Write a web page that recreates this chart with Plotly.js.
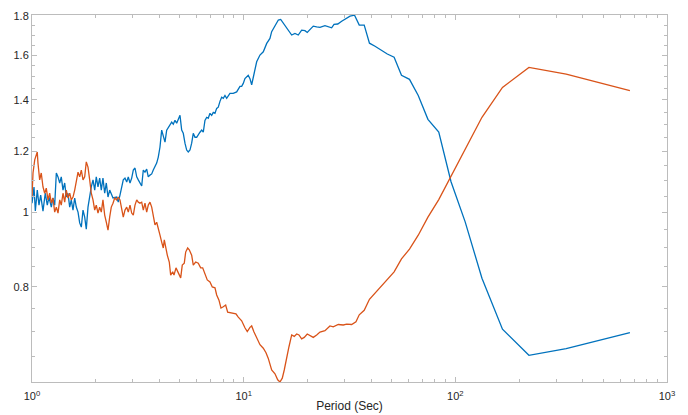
<!DOCTYPE html>
<html><head><meta charset="utf-8">
<script src="https://cdn.plot.ly/plotly-3.0.1.min.js"></script>
<style>html,body{margin:0;padding:0;background:#fff;} #chart{width:688px;height:415px;}</style>
</head><body><div id="chart"></div>
<script>
// Period (s) and ratio values
const blueT = [1.000,1.011,1.022,1.037,1.048,1.059,1.079,1.099,1.127,1.155,1.181,1.203,1.234,1.256,1.280,1.303,1.327,1.352,1.375,1.401,1.427,1.452,1.479,1.507,1.533,1.562,1.591,1.619,1.650,1.680,1.710,1.742,1.774,1.805,1.839,1.873,1.906,1.942,1.978,2.012,2.050,2.088,2.125,2.164,2.205,2.244,2.286,2.328,2.414,2.512,2.556,2.604,2.653,2.699,2.750,2.802,2.850,2.904,2.958,3.010,3.066,3.124,3.178,3.237,3.298,3.356,3.418,3.482,3.543,3.609,3.677,3.741,3.811,3.882,3.950,4.024,4.099,4.171,4.249,4.328,4.404,4.486,4.570,4.650,4.737,4.825,4.910,5.002,5.095,5.184,5.281,5.380,5.474,5.576,5.680,5.780,5.888,5.998,6.217,6.334,6.445,6.563,6.686,6.803,6.931,7.061,7.185,7.319,7.456,7.586,7.728,7.871,8.010,8.160,8.312,8.458,8.613,8.929,9.266,9.606,9.785,9.957,10.14,10.51,10.71,10.91,11.10,11.31,11.52,11.94,12.38,12.85,13.31,13.56,14.06,14.58,14.96,15.38,15.96,16.55,16.86,17.47,18.11,18.79,19.48,19.97,20.57,21.32,22.13,22.94,24.22,25.09,26.04,26.72,27.83,29.04,30.36,31.81,33.40,35.16,37.11,39.29,41.75,44.53,47.71,51.38,55.67,60.73,66.80,74.22,83.50,95.43,111.3,133.6,167.0,222.7,334.0,668.0];
const blueV = [1.028,1.053,1.079,1.004,1.038,1.069,1.022,1.053,1.004,1.059,1.022,1.047,1.016,1.044,1.022,1.125,1.112,1.092,1.112,1.069,1.092,1.047,1.059,1.016,1.038,1.007,1.044,1.016,1.001,0.969,0.957,1.007,0.986,0.951,1.016,1.053,1.079,1.102,1.069,1.112,1.079,1.108,1.069,1.108,1.059,1.092,1.047,1.069,1.044,1.047,1.031,1.053,1.079,1.102,1.108,1.095,1.112,1.092,1.108,1.135,1.142,1.112,1.102,1.092,1.082,1.135,1.128,1.138,1.112,1.118,1.122,1.135,1.145,1.159,1.180,1.216,1.279,1.260,1.234,1.279,1.290,1.302,1.310,1.302,1.317,1.306,1.325,1.337,1.279,1.267,1.230,1.205,1.198,1.205,1.230,1.267,1.252,1.252,1.271,1.279,1.271,1.317,1.329,1.325,1.345,1.337,1.349,1.345,1.365,1.370,1.394,1.411,1.407,1.419,1.407,1.419,1.428,1.428,1.434,1.458,1.458,1.471,1.492,1.507,1.492,1.465,1.496,1.522,1.569,1.601,1.617,1.658,1.683,1.717,1.751,1.778,1.781,1.763,1.734,1.713,1.700,1.708,1.700,1.725,1.722,1.713,1.729,1.746,1.742,1.739,1.748,1.742,1.737,1.755,1.757,1.772,1.786,1.799,1.804,1.751,1.751,1.659,1.644,1.625,1.606,1.591,1.507,1.489,1.419,1.321,1.272,1.096,0.972,0.821,0.705,0.652,0.665,0.698];

const orangeT = [1.000,1.011,1.030,1.048,1.059,1.067,1.087,1.106,1.127,1.148,1.168,1.190,1.212,1.234,1.256,1.280,1.303,1.327,1.352,1.375,1.401,1.427,1.452,1.479,1.507,1.533,1.562,1.591,1.619,1.650,1.680,1.710,1.742,1.774,1.805,1.839,1.873,1.906,1.942,1.978,2.012,2.050,2.088,2.125,2.164,2.205,2.244,2.286,2.328,2.369,2.414,2.459,2.512,2.556,2.604,2.653,2.699,2.750,2.802,2.850,2.904,2.958,3.010,3.066,3.124,3.178,3.237,3.298,3.356,3.418,3.482,3.543,3.609,3.677,3.741,3.811,3.882,3.950,4.024,4.099,4.171,4.217,4.296,4.357,4.452,4.520,4.620,4.686,4.789,4.910,5.040,5.128,5.241,5.321,5.439,5.534,5.680,5.780,5.933,6.103,6.265,6.403,6.563,6.730,6.931,7.107,7.319,7.456,7.644,7.812,8.010,8.222,8.403,8.776,9.196,9.430,9.785,10.14,10.40,10.71,10.91,11.19,11.52,11.94,12.38,12.75,13.07,13.31,13.56,14.06,14.48,14.84,15.22,15.55,15.96,16.37,16.86,17.34,17.80,18.25,18.79,19.33,19.97,20.57,21.32,22.13,22.94,24.22,25.56,26.50,27.99,29.54,30.66,32.37,33.92,35.16,37.11,39.29,41.75,44.53,47.71,51.38,55.67,60.73,66.80,74.22,83.50,95.43,111.3,133.6,167.0,222.7,334.0,668.0];
const orangeV = [1.047,1.125,1.170,1.194,1.198,1.159,1.102,1.125,1.079,1.059,1.075,1.038,1.059,1.028,1.044,1.001,1.016,0.998,1.038,1.022,1.059,1.031,1.069,1.044,1.059,1.038,1.047,1.069,1.092,1.128,1.112,1.135,1.102,1.112,1.163,1.145,1.102,1.059,1.038,1.007,1.022,0.998,1.016,1.001,1.038,0.992,0.971,0.948,0.986,1.016,1.028,1.044,1.038,1.047,1.038,1.013,0.986,1.007,1.016,1.001,1.022,0.998,0.992,1.022,1.038,1.031,1.028,1.031,1.007,1.028,1.001,1.022,1.031,1.016,0.992,0.963,0.971,0.948,0.934,0.915,0.899,0.921,0.894,0.880,0.862,0.829,0.837,0.829,0.847,0.834,0.822,0.854,0.859,0.888,0.899,0.894,0.880,0.854,0.862,0.859,0.847,0.847,0.834,0.817,0.812,0.800,0.798,0.781,0.769,0.751,0.754,0.758,0.742,0.740,0.738,0.731,0.723,0.708,0.700,0.709,0.712,0.699,0.686,0.673,0.666,0.657,0.646,0.637,0.624,0.617,0.606,0.602,0.609,0.624,0.650,0.669,0.693,0.690,0.695,0.693,0.685,0.688,0.695,0.691,0.688,0.693,0.699,0.702,0.712,0.710,0.715,0.714,0.716,0.715,0.721,0.736,0.746,0.771,0.786,0.800,0.818,0.837,0.870,0.896,0.934,0.986,1.039,1.115,1.206,1.329,1.453,1.543,1.512,1.439];

const xTickVals = [1, 10, 100, 1000];
const xTickText = ['10<sup>0</sup>', '10<sup>1</sup>', '10<sup>2</sup>', '10<sup>3</sup>'];
const xMinorVals = [2,3,4,5,6,7,8,9,20,30,40,50,60,70,80,90,200,300,400,500,600,700,800,900];
const yTickVals = [0.8, 1, 1.2, 1.4, 1.6, 1.8];
const yTickText = ['0.8', '1', '1.2', '1.4', '1.6', '1.8'];
const yMinorVals = [0.6,0.65,0.7,0.75,0.85,0.9,0.95,1.05,1.1,1.15,1.25,1.3,1.35,1.45,1.5,1.55,1.65,1.7,1.75];

const axisCol = '#bcbcbc';
const textCol = '#262626';
const fontFam = 'Liberation Sans, Arial, Helvetica, sans-serif';

const traces = [
  {x: blueT, y: blueV, type: 'scatter', mode: 'lines', line: {color: '#0072BD', width: 1.3}, hoverinfo: 'skip'},
  {x: orangeT, y: orangeV, type: 'scatter', mode: 'lines', line: {color: '#D95319', width: 1.3}, hoverinfo: 'skip'}
];

const layout = {
  width: 688, height: 415,
  margin: {l: 32, r: 21, t: 15, b: 33, pad: 0},
  paper_bgcolor: '#ffffff', plot_bgcolor: '#ffffff',
  showlegend: false,
  font: {family: fontFam, color: textCol, size: 11},
  xaxis: {
    type: 'log', range: [0, 3], autorange: false,
    tickmode: 'array', tickvals: xTickVals, ticktext: xTickText,
    ticks: 'inside', ticklen: 5, tickwidth: 1, tickcolor: axisCol,
    showline: true, linecolor: axisCol, linewidth: 1, mirror: 'ticks',
    showgrid: false, zeroline: false, ticklabelstandoff: 4,
    tickfont: {family: fontFam, size: 11, color: textCol},
    minor: {tickmode: 'array', tickvals: xMinorVals, ticks: 'inside', ticklen: 3, tickwidth: 1, tickcolor: axisCol, showgrid: false},
    title: {text: 'Period (Sec)', font: {family: fontFam, size: 12, color: textCol}, standoff: 0}
  },
  yaxis: {
    type: 'log', range: [Math.log10(0.602), Math.log10(1.805)], autorange: false,
    tickmode: 'array', tickvals: yTickVals, ticktext: yTickText,
    ticks: 'inside', ticklen: 5, tickwidth: 1, tickcolor: axisCol,
    showline: true, linecolor: axisCol, linewidth: 1, mirror: 'ticks',
    showgrid: false, zeroline: false,
    tickfont: {family: fontFam, size: 11, color: textCol},
    minor: {tickmode: 'array', tickvals: yMinorVals, ticks: 'inside', ticklen: 3, tickwidth: 1, tickcolor: axisCol, showgrid: false}
  }
};

Plotly.newPlot('chart', traces, layout, {staticPlot: true, displayModeBar: false});
</script></body></html>
